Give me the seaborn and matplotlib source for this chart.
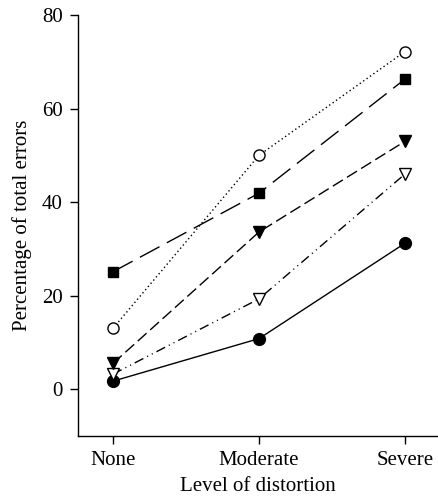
import pandas as pd
import numpy as np
import matplotlib
matplotlib.use('Agg')
import matplotlib.pyplot as plt
import seaborn as sns

levels = ['None', 'Moderate', 'Severe']
open_circle = [13.0, 50.0, 72.2]
filled_square = [25.1, 41.9, 66.3]
filled_tri = [5.5, 33.6, 53.0]
open_tri = [3.2, 19.3, 46.0]
filled_circle = [1.7, 10.8, 31.2]

sns.set_style('ticks')
plt.rcParams['font.family'] = ['Liberation Serif', 'DejaVu Serif']
plt.rcParams['text.color'] = 'black'
plt.rcParams['axes.labelcolor'] = 'black'

fig, ax = plt.subplots(figsize=(4.38, 5.01), dpi=100)

# (values, marker, facecolor, dashes, size)
series = [
    (filled_circle, 'o', 'black', None, 8.5),
    (open_tri, 'v', 'white', (7, 3, 0.8, 3, 0.8, 3), 8.5),
    (filled_tri, 'v', 'black', (8.5, 3.5), 8.5),
    (filled_square, 's', 'black', (16, 6), 7.5),
    (open_circle, 'o', 'white', (1, 2), 8),
]
for vals, mk, fc, dsh, ms in series:
    df = pd.DataFrame({'level': levels, 'pct': vals})
    kw = dict(data=df, x='level', y='pct', ax=ax, color='black', lw=1,
              marker=mk, markersize=ms, markerfacecolor=fc,
              markeredgecolor='black', markeredgewidth=1, sort=False)
    if dsh is None:
        sns.lineplot(**kw, linestyle='-')
    else:
        sns.lineplot(**kw, dashes=dsh)

ax.set_ylim(-10, 80)
ax.set_yticks([0, 20, 40, 60, 80])
ax.set_xlim(-0.24, 2.22)
ax.set_xlabel('Level of distortion', fontsize=15, labelpad=5)
ax.set_ylabel('Percentage of total errors', fontsize=15, labelpad=7)
ax.tick_params(labelsize=15, length=6, width=1, colors='black', pad=5)
for s in ['left', 'bottom']:
    ax.spines[s].set_linewidth(1)
    ax.spines[s].set_color('black')
sns.despine(ax=ax)

fig.subplots_adjust(left=0.178, right=0.998, top=0.97, bottom=0.13)
fig.savefig('out.png', dpi=100)
